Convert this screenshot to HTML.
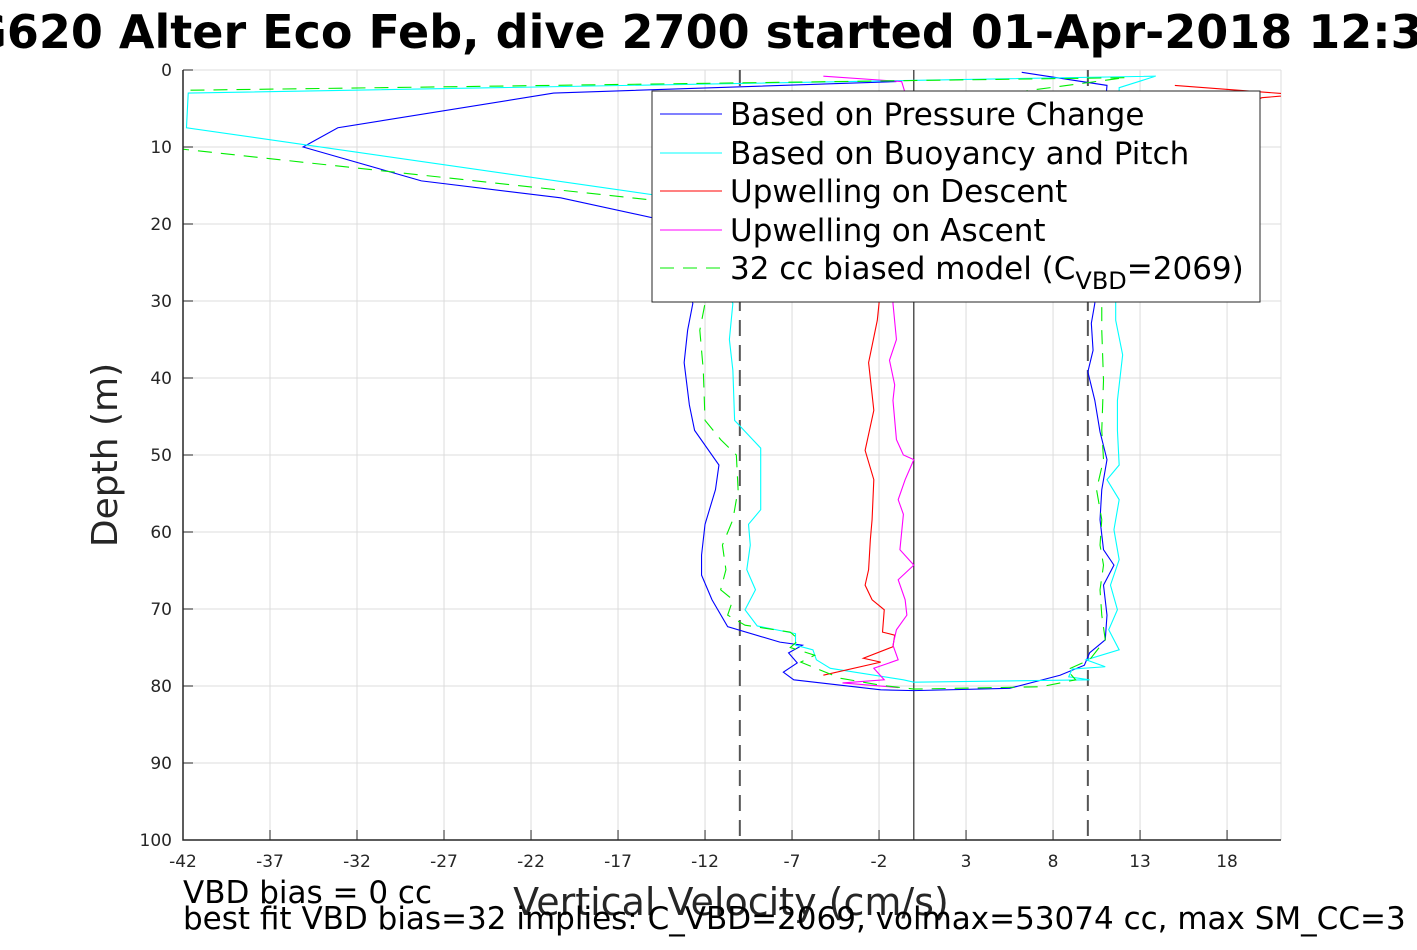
<!DOCTYPE html>
<html><head><meta charset="utf-8"><style>
body{margin:0;background:#fff;width:1417px;height:945px;overflow:hidden}
svg text{font-family:"DejaVu Sans","Liberation Sans",sans-serif}
</style></head><body>
<svg id="chart" width="1417" height="945" viewBox="0 0 1417 945">
<text x="-64" y="48" font-size="46" font-weight="bold" fill="#000">SG620 Alter Eco Feb, dive 2700 started 01-Apr-2018 12:34</text>
<g id="grid"></g>
<g id="plot"></g>
<g id="axes"></g>
<text transform="translate(117,455) rotate(-90)" text-anchor="middle" font-size="36" fill="#262626">Depth (m)</text>
<text x="731" y="915" text-anchor="middle" font-size="38" fill="#262626">Vertical Velocity (cm/s)</text>
<text x="183" y="903" font-size="31" fill="#000">VBD bias = 0 cc</text>
<text x="183" y="929" font-size="31" fill="#000">best fit VBD bias=32 implies: C_VBD=2069, volmax=53074 cc, max SM_CC=3</text>
<g id="legend"></g>
</svg>
<script>
const xTicks=[-42,-37,-32,-27,-22,-17,-12,-7,-2,3,8,13,18];
const yTicks=[0,10,20,30,40,50,60,70,80,90,100];
const xMin=-42,xMax=21.1,yMin=0,yMax=100;
const pressureV=[-1,-20.7,-33.1,-35.1,-28.3,-20.3,-15,-12.7,-13,-13.2,-12.9,-12.6,-11.2,-11.4,-12,-12.2,-12.2,-11.6,-10.7,-7.7,-6.4,-7.2,-6.7,-7.5,-6.9,-1.9,0,5.5,8.4,9.8,10.1,11,11.1,10.9,11.5,10.9,10.7,10.8,11.1,10.7,10.4,10,10.3,10.2,10.4,10.8,11.1,6.2];
const pressureD=[1.5,3,7.5,10,14.4,16.6,19.2,30.3,33.8,38,43.5,46.8,51.3,54.5,59,63,65.6,68.8,72.3,74.3,74.7,75.7,77,78.2,79.2,80.5,80.6,80.3,78.6,77.3,75.7,74,70.8,66.9,64.3,62.3,58.4,54.5,50.6,47,42.9,39.2,36.4,32.9,30.3,10,2,0.3];
const buoyV=[13.9,-41.7,-41.8,-15,-10.4,-10.6,-10.4,-10.3,-8.8,-8.8,-8.8,-9.5,-9.4,-9.6,-9.1,-9.7,-9,-6.8,-6.8,-5.8,-5.6,-4.8,-0.6,0,10.1,8.9,9.1,11,9.9,11.8,11.2,11.7,11.3,11.8,11.5,11.8,11.1,11.8,11.7,11.7,12,11.6,11.6,11.8,13.9];
const buoyD=[0.8,3,7.5,16.2,30.3,35,39,45.5,49.1,53.2,57.1,59,61.7,64.9,67.5,70.1,72.2,73.2,74.7,75.3,76.6,77.7,79.2,79.5,79.2,78.8,77.8,77.5,76.6,75.3,72.7,70.1,66.9,63.6,59.7,55.8,53.2,51.3,46.8,42.9,37,32.5,30.3,2.3,0.8];
const upDescV=[15,22,20,-2,-2,-2.1,-2.6,-2.3,-2.8,-2.3,-2.4,-2.5,-2.6,-2.8,-2.4,-1.7,-1.8,-1.1,-1.2,-2.9,-1.9,-5.2];
const upDescD=[2,3.2,3.6,25,30.3,32.5,38,44.2,49.4,53.2,58.4,61,64.9,66.9,68.8,70.1,73,73.4,74.9,76.4,76.9,78.6];
const upAscV=[-0.9,-4.1,-1.7,-2.3,-0.9,-1.2,-1,-0.4,-0.5,-0.9,0,-0.8,-0.6,-0.9,-0.5,0,-0.6,-1,-1.2,-1.1,-1.4,-1,-1.2,-0.5,-0.7,-5.2];
const upAscD=[80.2,79.6,79.2,77.7,76.6,74.7,72.7,70.8,68.8,66.2,64.3,62.3,57.7,55.8,53.2,50.6,50,48,42.9,40.9,37.7,35,30.3,3,1.5,0.8];
const modelV=[12.1,-44,-44,-15,-12,-12.3,-12.1,-12,-11.1,-10.2,-10.1,-10.4,-11,-10.8,-11.1,-10.4,-10.7,-9.7,-7.1,-6.6,-7.1,-5.7,-6.5,-4.2,-1.9,0,7.3,9.3,8.8,10.1,11,10.8,10.7,10.9,10.7,10.8,10.5,10.9,10.8,10.9,10.8,10.8,6.5,12.1];
const modelD=[1,2.7,9.8,16.9,30.3,33.8,39,45.5,48,50,54.5,58.4,61.7,64.9,67.5,68.8,70.8,72.1,73,74,75,76,76.9,79,79.9,80.4,80.1,79.2,77.9,76.6,74,70.8,67.5,64.3,61.7,58.4,54.5,50.6,46.8,40.3,33.8,30.3,2.7,1];
const L=183,R=1281,T=70,B=840;
const sx=v=>L+(v-xMin)/(xMax-xMin)*(R-L);
const sy=d=>T+(d-yMin)/(yMax-yMin)*(B-T);
const NS='http://www.w3.org/2000/svg';
function mk(tag,parent){const e=document.createElementNS(NS,tag);parent.appendChild(e);return e;}
const grid=document.getElementById('grid'),axes=document.getElementById('axes'),plot=document.getElementById('plot'),legend=document.getElementById('legend');
xTicks.concat([21]).forEach(t=>{const l=mk('line',grid);


const x=t===21?R:sx(t);l.setAttribute('x1',x);l.setAttribute('x2',x);l.setAttribute('y1',T);l.setAttribute('y2',B);l.setAttribute('stroke','#dcdcdc');l.setAttribute('stroke-width','1');});
yTicks.forEach(t=>{const l=mk('line',grid);


l.setAttribute('x1',L);l.setAttribute('x2',R);l.setAttribute('y1',sy(t));l.setAttribute('y2',sy(t));l.setAttribute('stroke','#dcdcdc');});
const defs=mk('defs',plot);const cp=mk('clipPath',defs);cp.setAttribute('id','clip');const cr=mk('rect',cp);
cr.setAttribute('x',L);cr.setAttribute('y',T);cr.setAttribute('width',R-L);cr.setAttribute('height',B-T);
const g=mk('g',plot);g.setAttribute('clip-path','url(#clip)');
[-10,10].forEach(v=>{const l=mk('line',g);


l.setAttribute('x1',sx(v));l.setAttribute('x2',sx(v));l.setAttribute('y1',T);l.setAttribute('y2',B);l.setAttribute('stroke','#555');l.setAttribute('stroke-width','2');l.setAttribute('stroke-dasharray','16,9');});
const z=mk('line',g);


z.setAttribute('x1',sx(0));z.setAttribute('x2',sx(0));z.setAttribute('y1',T);z.setAttribute('y2',B);z.setAttribute('stroke','#000');
const series=[
 {n:'pressure-change-line',v:pressureV,d:pressureD,c:'#0000ff',dash:null,label:'Based on Pressure Change'},
 {n:'buoyancy-pitch-line',v:buoyV,d:buoyD,c:'#00ffff',dash:null,label:'Based on Buoyancy and Pitch'},
 {n:'upwelling-descent-line',v:upDescV,d:upDescD,c:'#ff0000',dash:null,label:'Upwelling on Descent'},
 {n:'upwelling-ascent-line',v:upAscV,d:upAscD,c:'#ff00ff',dash:null,label:'Upwelling on Ascent'},
 {n:'biased-model-line',v:modelV,d:modelD,c:'#00ee00',dash:'14,9',label:'32 cc biased model'}];
series.forEach(s=>{const p=mk('polyline',g);


p.setAttribute('points',s.v.map((v,i)=>sx(v)+','+sy(s.d[i])).join(' '));p.setAttribute('fill','none');p.setAttribute('stroke',s.c);p.setAttribute('stroke-width','1.1');
if(s.dash)p.setAttribute('stroke-dasharray',s.dash);});
const ax=mk('path',axes);


ax.setAttribute('d',`M${L},${T}V${B}H${R}`);ax.setAttribute('stroke','#262626');ax.setAttribute('fill','none');ax.setAttribute('stroke-width','1.5');
xTicks.forEach(t=>{const tk=mk('line',axes);


tk.setAttribute('x1',sx(t));tk.setAttribute('x2',sx(t));tk.setAttribute('y1',B);tk.setAttribute('y2',B-10);tk.setAttribute('stroke','#262626');
const tx=mk('text',axes);


tx.setAttribute('x',sx(t));tx.setAttribute('y',B+27);tx.setAttribute('text-anchor','middle');tx.setAttribute('font-size','17');tx.setAttribute('fill','#262626');tx.textContent=t;});
yTicks.forEach(t=>{const tk=mk('line',axes);


tk.setAttribute('x1',L);tk.setAttribute('x2',L+10);tk.setAttribute('y1',sy(t));tk.setAttribute('y2',sy(t));tk.setAttribute('stroke','#262626');
const tx=mk('text',axes);


tx.setAttribute('x',L-11);tx.setAttribute('y',sy(t)+6);tx.setAttribute('text-anchor','end');tx.setAttribute('font-size','17');tx.setAttribute('fill','#262626');tx.textContent=t;});
const box=mk('rect',legend);


box.setAttribute('x',652);box.setAttribute('y',91);box.setAttribute('width',608);box.setAttribute('height',211);box.setAttribute('fill','#fff');box.setAttribute('stroke','#262626');
const rows=[114,153,191,230,268];
series.forEach((s,i)=>{const l=mk('line',legend);


l.setAttribute('x1',660);l.setAttribute('x2',722);l.setAttribute('y1',rows[i]);l.setAttribute('y2',rows[i]);l.setAttribute('stroke',s.c);l.setAttribute('stroke-width','1.1');if(s.dash)l.setAttribute('stroke-dasharray',s.dash);
const t=mk('text',legend);


t.setAttribute('x',730);t.setAttribute('y',rows[i]+11);t.setAttribute('font-size','31');t.setAttribute('fill','#000');
if(i<4){t.textContent=s.label;}else{t.innerHTML='32 cc biased model (C<tspan dy="10" font-size="24">VBD</tspan><tspan dy="-10">=2069)</tspan>';}});
</script>
</body></html>
